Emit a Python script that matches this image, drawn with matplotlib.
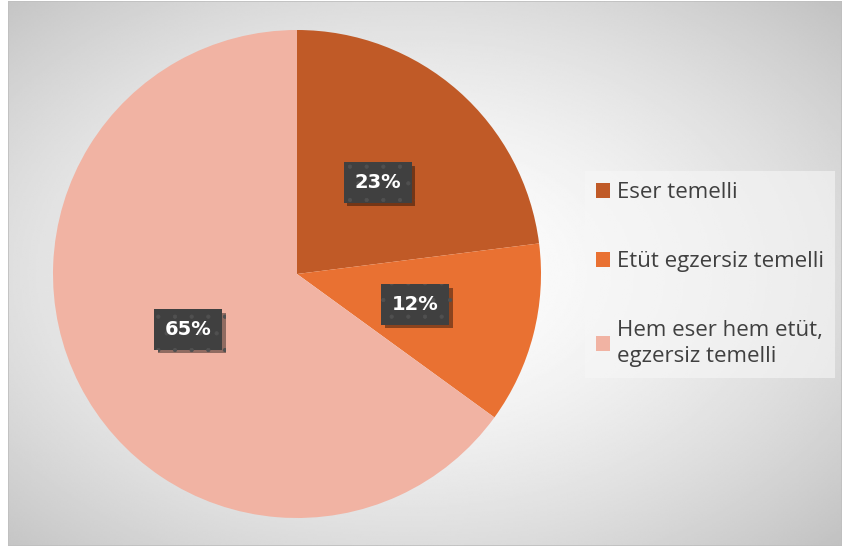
import numpy as np
import matplotlib
matplotlib.use("Agg")
import matplotlib.pyplot as plt
from matplotlib.patches import Rectangle
import matplotlib.patheffects as pe

categories = ["Eser temelli", "Etüt egzersiz temelli", "Hem eser hem etüt,\negzersiz temelli"]
values = [23, 12, 65]
colors = ["#C05A27", "#E97132", "#F1B3A3"]

plt.rcParams["hatch.linewidth"] = 0.6

W, H = 842, 548
fig = plt.figure(figsize=(W / 100, H / 100), dpi=100)
fig.patch.set_facecolor("white")

# background radial gradient panel
bg = fig.add_axes([8 / W, 2 / H, (W - 8) / W, (H - 3) / H])
yy, xx = np.mgrid[0:1:300j, 0:1:460j]
r = np.sqrt(((xx - 0.48) / 0.62) ** 2 + ((yy - 0.5) / 0.62) ** 2)
img = 1.0 - 0.19 * np.clip(r, 0, 1.3) ** 1.6
bg.imshow(img, cmap="gray", vmin=0, vmax=1, extent=[0, 1, 0, 1], aspect="auto", interpolation="bilinear")
bg.set_xlim(0, 1)
bg.set_ylim(0, 1)
bg.axis("off")
bg.add_patch(Rectangle((0, 0), 1, 1, transform=bg.transAxes, fill=False, edgecolor="#BFBFBF", lw=1.2))

# pie axes: centre (297, 274) px, radius 244 px
cx, cy, rad = 297, 274, 244
ax = fig.add_axes([(cx - rad) / W, (H - cy - rad) / H, 2 * rad / W, 2 * rad / H])
ax.set_facecolor("none")
wedges, _ = ax.pie(values, colors=colors, startangle=90, counterclock=False, radius=1,
                   wedgeprops=dict(linewidth=0))
ax.set_xlim(-1, 1)
ax.set_ylim(-1, 1)
ax.set_aspect("equal")

for w, v in zip(wedges, values):
    ang = np.deg2rad((w.theta1 + w.theta2) / 2)
    x, y = 0.5 * np.cos(ang), 0.5 * np.sin(ang)
    t = ax.text(x, y, f"{v}%", ha="center", va="center", fontsize=14, fontweight="bold", color="white",
                family="DejaVu Sans",
                bbox=dict(boxstyle="square,pad=0.55", fc="#404040", ec="#505050", lw=0, hatch="."))
    t.get_bbox_patch().set_path_effects([
        pe.SimplePatchShadow(offset=(2.5, -2.5), shadow_rgbFace="black", alpha=0.4),
        pe.Normal()])

leg = fig.legend(wedges, categories, loc="center left",
                 bbox_to_anchor=(585 / W, 1 - 274.5 / H),
                 frameon=True, fancybox=False, framealpha=0.6, facecolor="#F7F7F7", edgecolor="none",
                 prop=dict(family="Open Sans", size=16), labelcolor="#404040",
                 handlelength=0.63, handleheight=0.63, handletextpad=0.3,
                 labelspacing=2.15, borderpad=0.5, borderaxespad=0)
for tx in leg.get_texts():
    tx.set_linespacing(1.3)

fig.savefig("out.png", dpi=100)
